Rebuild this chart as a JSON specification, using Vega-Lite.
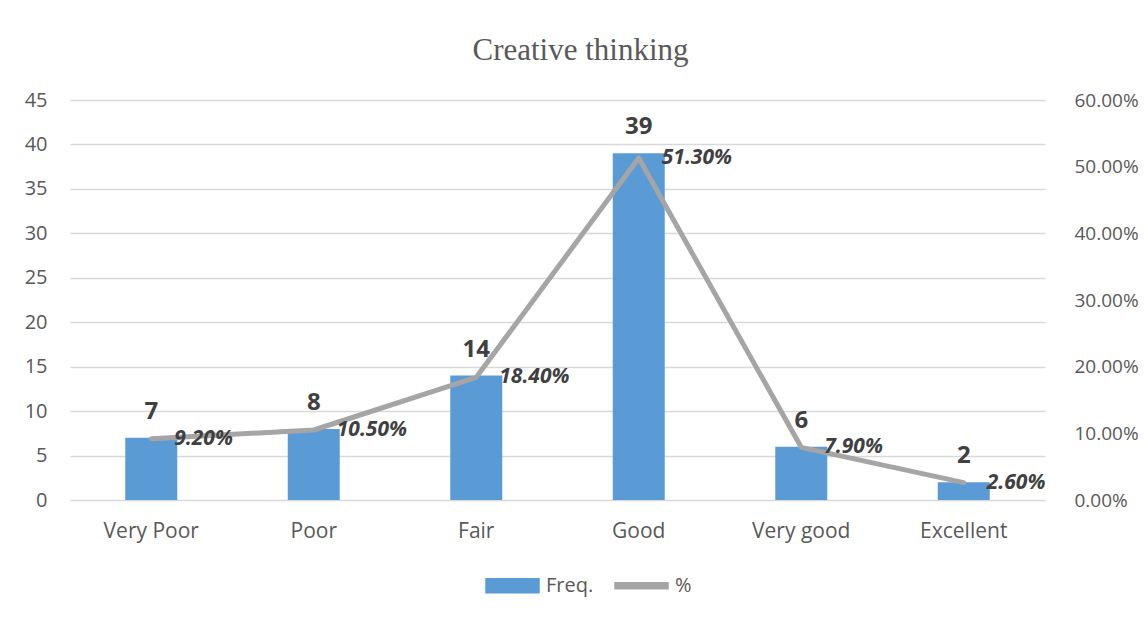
{
  "$schema": "https://vega.github.io/schema/vega-lite/v6.json",
  "width": 975,
  "height": 400,
  "autosize": {"type": "none"},
  "padding": {"left": 70, "top": 100, "right": 101, "bottom": 120},
  "background": "white",
  "title": {"text": "Creative thinking", "font": "Liberation Serif", "fontSize": 31, "fontWeight": "normal", "color": "#595959", "anchor": "middle", "dx": 23, "offset": 23},
  "config": {"view": {"stroke": null}},
  "data": {"values": [
    {"cat": "Very Poor", "freq": 7, "pct": 0.092},
    {"cat": "Poor", "freq": 8, "pct": 0.105},
    {"cat": "Fair", "freq": 14, "pct": 0.184},
    {"cat": "Good", "freq": 39, "pct": 0.513},
    {"cat": "Very good", "freq": 6, "pct": 0.079},
    {"cat": "Excellent", "freq": 2, "pct": 0.026}
  ]},
  "encoding": {
    "x": {
      "field": "cat", "type": "nominal",
      "sort": ["Very Poor", "Poor", "Fair", "Good", "Very good", "Excellent"],
      "scale": {"paddingInner": 0.68, "paddingOuter": 0.34},
      "axis": {"title": null, "labelAngle": 0, "ticks": false, "domain": false, "labelFont": "Open Sans", "labelFontSize": 21, "labelColor": "#595959", "labelPadding": 20}
    }
  },
  "layer": [
    {
      "layer": [
        {
          "mark": {"type": "bar"},
          "encoding": {
            "y": {"field": "freq", "type": "quantitative", "scale": {"domain": [0, 45]},
              "axis": {"title": null, "values": [0, 5, 10, 15, 20, 25, 30, 35, 40, 45], "ticks": false, "domain": false, "gridColor": "#D9D9D9", "gridWidth": 1.3, "labelFont": "Open Sans", "labelFontSize": 20, "labelColor": "#595959", "labelPadding": 23}},
            "color": {"datum": "Freq.", "type": "nominal",
              "scale": {"domain": ["Freq.", "%"], "range": ["#5B9BD5", "#A5A5A5"]},
              "legend": {"orient": "none", "legendX": 415, "legendY": 458, "direction": "horizontal", "title": null,
                "symbolSize": 2809, "symbolType": "M-1,-0.26H1V0.26H-1Z",
                "labelFont": "Open Sans", "labelFontSize": 20, "labelColor": "#595959", "labelOffset": 6, "columnPadding": 18,
                "encode": {"symbols": {"update": {
                  "shape": {"signal": "datum.value === '%' ? 'M-1,-0.11H1V0.11H-1Z' : 'M-1,-0.26H1V0.26H-1Z'"},
                  "fill": {"signal": "datum.value === '%' ? '#A5A5A5' : '#5B9BD5'"},
                  "stroke": {"value": "transparent"},
                  "opacity": {"value": 1}
                }}}
              }
            }
          }
        },
        {
          "mark": {"type": "text", "font": "Open Sans", "fontSize": 24, "fontWeight": "bold", "color": "#404040", "baseline": "alphabetic", "dy": -19},
          "encoding": {
            "y": {"field": "freq", "type": "quantitative"},
            "text": {"field": "freq", "type": "quantitative"}
          }
        }
      ]
    },
    {
      "layer": [
        {
          "mark": {"type": "line", "strokeWidth": 5, "strokeCap": "round", "strokeJoin": "round"},
          "encoding": {
            "y": {"field": "pct", "type": "quantitative", "scale": {"domain": [0, 0.6]},
              "axis": {"orient": "right", "title": null, "values": [0, 0.1, 0.2, 0.3, 0.4, 0.5, 0.6], "format": ".2%", "grid": false, "ticks": false, "domain": false, "labelFont": "Open Sans", "labelFontSize": 19, "labelColor": "#595959", "labelPadding": 17, "offset": 12}},
            "color": {"datum": "%", "type": "nominal"}
          }
        },
        {
          "mark": {"type": "text", "font": "Open Sans", "fontSize": 21, "fontWeight": "bold", "fontStyle": "italic", "color": "#404040", "align": "left", "baseline": "middle", "dx": 23},
          "encoding": {
            "y": {"field": "pct", "type": "quantitative"},
            "text": {"field": "pct", "type": "quantitative", "format": ".2%"}
          }
        }
      ]
    }
  ],
  "resolve": {"scale": {"y": "independent"}}
}
